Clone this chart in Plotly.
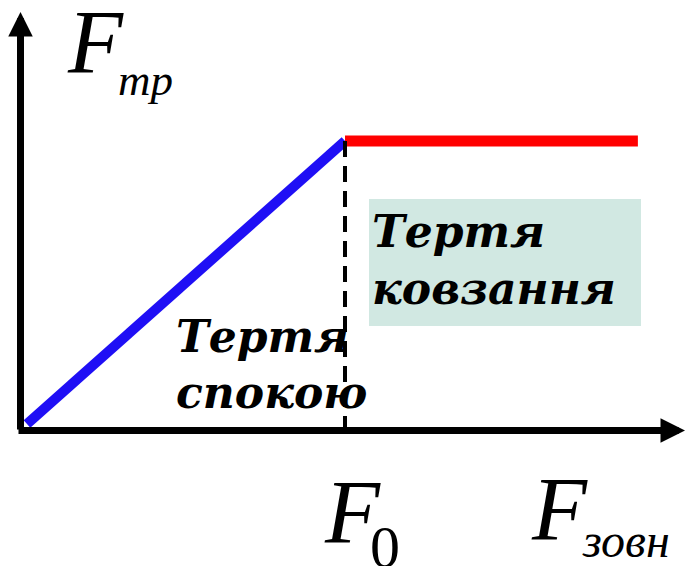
import plotly.graph_objects as go

W, H = 686, 566

# data (relative units)
F_ext = [0.0, 1.0, 1.921]        # external force: origin, F0, end
F_fr = [0.0, 1.0, 1.0]           # friction force
F0 = 1.0
F0_dash_bottom = -0.05

# pixel mapping of data origin and unit sizes
ox, oy = 27, 424
ux, uy = 318, 283
xr = [-ox / ux, (W - ox) / ux]
yr = [-(H - oy) / uy, oy / uy]

def dx(px):
    return (px - ox) / ux

def dy(py):
    return (oy - py) / uy

def px(x):
    return x / W

def py(y):
    return 1 - y / H

fig = go.Figure()

# static friction (blue)
fig.add_trace(go.Scatter(x=F_ext[:2], y=F_fr[:2], mode="lines",
                         line=dict(color="#1f0ff5", width=10), hoverinfo="skip"))
# kinetic friction (red)
fig.add_trace(go.Scatter(x=F_ext[1:], y=F_fr[1:], mode="lines",
                         line=dict(color="#ff0000", width=11), hoverinfo="skip"))
# dashed F0 line
fig.add_trace(go.Scatter(x=[F0, F0], y=[F_fr[1], F0_dash_bottom], mode="lines",
                         line=dict(color="black", width=4, dash="16px,9px"), hoverinfo="skip"))

shapes = [
    dict(type="rect", xref="paper", yref="paper", x0=px(369), x1=px(641),
         y0=py(326), y1=py(199), fillcolor="#d1e8e2", line=dict(width=0), layer="below"),
]

ann = []
# axes arrows
ann.append(dict(x=dx(20.5), y=dy(12), ax=dx(20.5), ay=dy(431), xref="x", yref="y",
                axref="x", ayref="y", showarrow=True, arrowhead=2, arrowsize=0.7,
                arrowwidth=7, arrowcolor="black", text=""))
ann.append(dict(x=dx(685), y=dy(430.5), ax=dx(17), ay=dy(430.5), xref="x", yref="y",
                axref="x", ayref="y", showarrow=True, arrowhead=2, arrowsize=0.7,
                arrowwidth=7, arrowcolor="black", text=""))

serif = "Liberation Serif"
bold = "DejaVu Serif"

def label(text, x, y, size, family, xanchor="left", yanchor="middle"):
    ann.append(dict(text=text, x=px(x), y=py(y), xref="paper", yref="paper",
                    showarrow=False, xanchor=xanchor, yanchor=yanchor,
                    font=dict(family=family, size=size, color="black")))

# F_tr
label("<i>F</i>", 65, 43, 90, serif)
label("<i>тр</i>", 116, 80, 45, serif)
# F_0
label("<i>F</i>", 322, 512, 90, serif)
label("0", 368, 547, 60, serif)
# F_zovn
label("<i>F</i>", 529, 509, 90, serif)
label("<i>зовн</i>", 580, 540, 48, serif)

# region labels
label("<b><i>Тертя</i></b>", 370, 231, 44, bold)
label("<b><i>ковзання</i></b>", 370, 288, 44, bold)
label("<b><i>Тертя</i></b>", 174, 336, 44, bold)
label("<b><i>спокою</i></b>", 174, 392, 44, bold)

fig.update_layout(
    width=W, height=H, margin=dict(l=0, r=0, t=0, b=0),
    paper_bgcolor="white", plot_bgcolor="white", showlegend=False,
    xaxis=dict(range=xr, visible=False, fixedrange=True),
    yaxis=dict(range=yr, visible=False, fixedrange=True),
    shapes=shapes, annotations=ann,
)

fig.write_html("out.html", config={"displayModeBar": False},
               post_script="document.body.style.margin='0';document.body.style.overflow='hidden';")
